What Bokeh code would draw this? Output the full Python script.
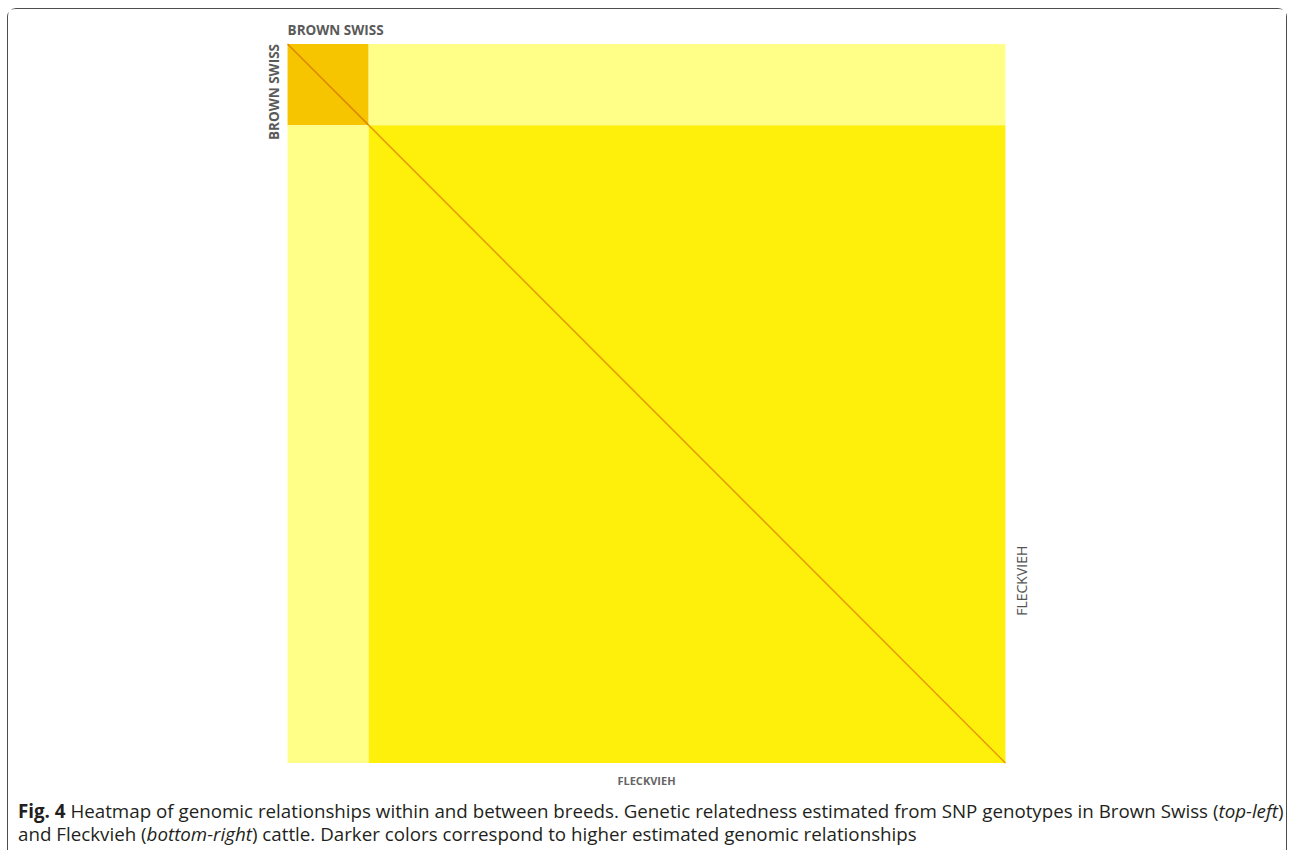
import math

from bokeh.embed import file_html
from bokeh.layouts import column
from bokeh.models import ColumnDataSource, Div, Label, LinearColorMapper, Range1d
from bokeh.plotting import figure
from bokeh.resources import INLINE
from bokeh.transform import transform

# Breeds in matrix order and number of genotyped animals per breed
breeds = ["Brown Swiss", "Fleckvieh"]
n_animals = [56, 440]

# Mean genomic relationship of each breed block (rows x columns)
block_rel = [[0.34, -0.06],
             [-0.06, 0.14]]

# Mean self-relationship (matrix diagonal) per breed
diag_rel = [1.18, 0.98]

# Colour ramp: pale yellow (low) -> orange (high)
palette = ["#FFFFD5", "#FFFF88", "#FFFF40", "#FFF00C", "#FFDF00", "#F7C400",
           "#F4BC00", "#F2B200", "#F0A800", "#EEA000", "#ECA000", "#E89C00",
           "#E29200", "#DC8A00", "#D07800"]
mapper = LinearColorMapper(palette=palette, low=-0.2, high=1.3)

starts = [sum(n_animals[:i]) for i in range(len(n_animals))]
total = sum(n_animals)

blocks = dict(left=[], right=[], top=[], bottom=[], rel=[])
for i in range(len(breeds)):
    for j in range(len(breeds)):
        blocks["left"].append(starts[j])
        blocks["right"].append(starts[j] + n_animals[j])
        blocks["top"].append(starts[i])
        blocks["bottom"].append(starts[i] + n_animals[i])
        blocks["rel"].append(block_rel[i][j])

diag = dict(x0=starts, y0=starts,
            x1=[s + n for s, n in zip(starts, n_animals)],
            y1=[s + n for s, n in zip(starts, n_animals)],
            rel=diag_rel)

# Canvas geometry (pixels): the matrix is a square with room for labels
W, H = 1280, 786
MAT = 719
PAD_L, PAD_T = 279.5, 34.5
ppu = MAT / total
x_range = Range1d(-PAD_L / ppu, (W - PAD_L) / ppu)
y_range = Range1d((H - PAD_T) / ppu, -PAD_T / ppu)

p = figure(
    output_backend="svg", toolbar_location=None,
    width=W, height=H, min_border=0,
    x_range=x_range, y_range=y_range,
    x_axis_location=None, y_axis_location=None,
    background_fill_color="white", border_fill_color="white",
)
p.grid.visible = False
p.outline_line_color = None

p.quad(left="left", right="right", top="top", bottom="bottom",
       source=ColumnDataSource(blocks),
       fill_color=transform("rel", mapper), line_color=None)
p.segment(x0="x0", y0="y0", x1="x1", y1="y1",
          source=ColumnDataSource(diag),
          line_color=transform("rel", mapper), line_width=1.6)

p.add_layout(Label(x=0, y=0, text="BROWN SWISS", text_font="Open Sans",
                   text_font_size="13.5px", text_font_style="bold",
                   text_color="#5a5a5a", text_align="left",
                   text_baseline="bottom", y_offset=5))
p.add_layout(Label(x=0, y=0, text="BROWN SWISS", text_font="Open Sans",
                   text_font_size="13.5px", text_font_style="bold",
                   text_color="#5a5a5a", text_align="right",
                   text_baseline="bottom", angle=math.pi / 2, x_offset=-5))
p.add_layout(Label(x=total, y=0.7465 * total, text="FLECKVIEH",
                   text_font="Open Sans", text_font_size="14px",
                   text_color="#555555", text_align="center",
                   text_baseline="top", angle=math.pi / 2, x_offset=7))
p.add_layout(Label(x=total / 2, y=total, text="FLECKVIEH",
                   text_font="Open Sans", text_font_size="11px",
                   text_font_style="bold", text_color="#666666",
                   text_align="center", text_baseline="top", y_offset=-10))

caption = Div(
    text=("<b>Fig. 4</b> Heatmap of genomic relationships within and between breeds. "
          "Genetic relatedness estimated from SNP genotypes in Brown Swiss (<i>top-left</i>)<br>"
          "and Fleckvieh (<i>bottom-right</i>) cattle. Darker colors correspond to higher "
          "estimated genomic relationships"),
    width=W,
    styles={"font-family": "Open Sans", "font-size": "18.75px", "line-height": "22.5px",
            "color": "#231f20", "padding-left": "5px", "white-space": "nowrap"},
)

page = column(p, caption, width=W, margin=(8, 0, 0, 7),
              styles={"border": "1.5px solid #4d4d4d", "border-bottom": "none",
                      "border-radius": "9px 9px 0 0", "background": "white"})

open("out.html", "w").write(file_html(page, INLINE))
